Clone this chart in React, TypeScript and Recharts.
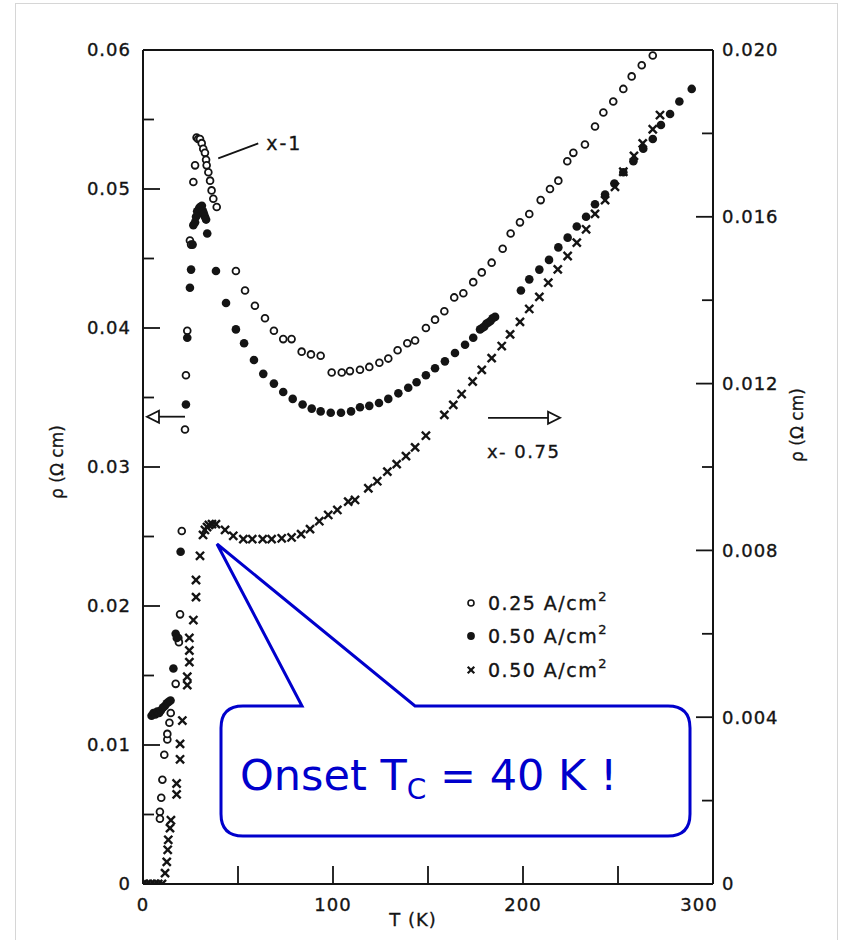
import React from 'react';
import { ScatterChart, Scatter, XAxis, YAxis, ReferenceLine, ReferenceDot, Legend } from 'recharts';

const FONT = '"DejaVu Sans", "Liberation Sans", sans-serif';
const INK = '#141414';
const BLUE = '#0000CC';

// ---- Data: x = 1, 0.25 A/cm^2 (open circles, left axis) ----
const openT = [8.9, 8.9, 9.6, 10.2, 11.2, 12.8, 12.8, 13.9, 14.6, 17.2, 18.6, 18.9, 19.5, 20.4, 22.1, 22.6, 23.3, 24.7, 25.3, 26.5, 27.4, 28.2, 29.0, 30.0, 30.9, 31.7, 32.6, 33.2, 33.5, 34.4, 35.3, 36.1, 37.0, 38.8,
  48.9, 53.7, 58.9, 64.2, 68.9, 73.8, 78.2, 83.5, 88.4, 93.5, 99.3, 104.6, 108.9, 114.2, 119.1, 124.4, 129.1, 134.0, 139.1, 143.2, 148.9, 153.7, 158.6, 163.8, 168.6, 173.8, 178.3, 183.5, 189.3, 193.5, 198.4, 203.3, 209.3, 214.2, 218.6, 223.3, 226.5, 232.6, 237.9, 242.3, 247.5, 252.8, 257.2, 262.5, 268.3];
const openRho = [0.0047, 0.0052, 0.0062, 0.0075, 0.0093, 0.0104, 0.0108, 0.0116, 0.0123, 0.0144, 0.0177, 0.0174, 0.0194, 0.0254, 0.0327, 0.0366, 0.0398, 0.0463, 0.0460, 0.0505, 0.0517, 0.0537, 0.0536, 0.0536, 0.0533, 0.0529, 0.0526, 0.0521, 0.0517, 0.0512, 0.0506, 0.0499, 0.0493, 0.0487,
  0.0441, 0.0427, 0.0416, 0.0407, 0.0398, 0.0392, 0.0392, 0.0383, 0.0381, 0.0380, 0.0368, 0.0368, 0.0369, 0.0370, 0.0372, 0.0375, 0.0378, 0.0384, 0.0389, 0.0391, 0.0400, 0.0406, 0.0412, 0.0422, 0.0425, 0.0433, 0.0440, 0.0447, 0.0457, 0.0468, 0.0476, 0.0482, 0.0492, 0.0500, 0.0506, 0.0520, 0.0526, 0.0532, 0.0545, 0.0555, 0.0563, 0.0572, 0.0581, 0.0589, 0.0596];

// ---- Data: x = 1, 0.50 A/cm^2 (filled circles, left axis) ----
const filledT = [4.5, 5.5, 6.5, 7.5, 8.5, 9.5, 10.5, 11.5, 12.5, 13.5, 14.5, 16.0, 17.2, 17.8, 19.8, 22.6, 23.3, 24.7, 25.3, 26.1, 26.5, 27.4, 27.9, 28.5, 29.0, 29.5, 30.0, 30.5, 31.0, 31.6, 32.1, 32.6, 33.2, 33.8,
  38.4, 43.7, 48.9, 53.2, 58.4, 63.3, 68.9, 73.8, 78.8, 84.0, 88.8, 93.5, 98.8, 104.2, 109.5, 114.2, 119.1, 124.2, 129.1, 134.4, 139.6, 144.0, 148.9, 153.7, 158.9, 164.2, 169.5, 173.8, 177.4, 178.5, 179.6, 180.7, 181.8, 182.9, 184.0, 185.3,
  198.9, 203.3, 208.6, 213.7, 218.6, 223.5, 228.3, 233.2, 237.9, 243.2, 248.1, 252.8, 258.1, 263.3, 268.3, 272.6, 277.4, 282.3, 288.8];
const filledRho = [0.0121, 0.0123, 0.0122, 0.0124, 0.0123, 0.0125, 0.0127, 0.0128, 0.0130, 0.0131, 0.0132, 0.0155, 0.0180, 0.0177, 0.0239, 0.0345, 0.0393, 0.0429, 0.0442, 0.0460, 0.0474, 0.0476, 0.0480, 0.0484, 0.0482, 0.0486, 0.0487, 0.0485, 0.0488, 0.0484, 0.0482, 0.0480, 0.0478, 0.0468,
  0.0441, 0.0418, 0.0399, 0.0389, 0.0377, 0.0367, 0.0360, 0.0354, 0.0349, 0.0345, 0.0342, 0.0340, 0.0339, 0.0339, 0.0340, 0.0343, 0.0344, 0.0346, 0.0349, 0.0353, 0.0357, 0.0361, 0.0366, 0.0371, 0.0376, 0.0382, 0.0388, 0.0393, 0.0399, 0.0400, 0.0401, 0.0403, 0.0404, 0.0405, 0.0407, 0.0408,
  0.0427, 0.0435, 0.0442, 0.0449, 0.0458, 0.0465, 0.0473, 0.0480, 0.0489, 0.0496, 0.0504, 0.0512, 0.0520, 0.0529, 0.0536, 0.0546, 0.0554, 0.0563, 0.0572];

// ---- Data: x = 0.75, 0.50 A/cm^2 (crosses, right axis) ----
const crossT = [0, 2, 4, 6, 8, 10, 11.6, 12.5, 13.0, 13.3, 14.2, 14.7, 17.7, 17.7, 19.5, 19.5, 20.7, 23.3, 23.3, 24.4, 24.4, 24.4, 26.5, 27.9, 27.9, 30.0, 31.6, 32.6, 33.7, 34.7, 36.3, 38.4,
  43.2, 47.5, 52.8, 57.5, 63.0, 67.7, 73.0, 78.2, 83.2, 87.9, 92.8, 97.5, 102.3, 108.0, 111.6, 118.6, 123.3, 128.6, 133.5, 138.4, 143.2, 148.9, 158.6, 163.3, 167.7, 173.5, 178.3, 183.5, 188.8, 193.2, 198.4, 203.3, 208.6, 213.3, 218.3, 223.5, 228.3, 233.2, 237.9, 243.2, 248.4, 252.8, 258.4, 263.0, 268.3, 272.1];
const crossRho = [0, 0, 0, 0, 0, 0, 0.00026, 0.00053, 0.00082, 0.00106, 0.00134, 0.00153, 0.00215, 0.00241, 0.00299, 0.00336, 0.00392, 0.00477, 0.00497, 0.00532, 0.0056, 0.0059, 0.00633, 0.00688, 0.00729, 0.00787, 0.00837, 0.00849, 0.00856, 0.00861, 0.00863, 0.00863,
  0.00849, 0.00835, 0.00827, 0.00827, 0.00827, 0.00827, 0.00829, 0.00831, 0.00839, 0.00851, 0.0087, 0.00885, 0.00897, 0.00917, 0.00921, 0.00949, 0.00966, 0.00989, 0.01007, 0.01026, 0.01047, 0.01075, 0.01125, 0.01149, 0.01175, 0.01205, 0.01233, 0.01261, 0.0129, 0.01318, 0.01348, 0.01379, 0.01408, 0.01442, 0.01474, 0.01506, 0.01538, 0.0157, 0.01607, 0.0164, 0.01672, 0.01708, 0.01746, 0.01776, 0.0181, 0.01844];

// ---- Axis ticks / labels ----
const xTicks = [0, 50, 100, 150, 200, 250, 300];
const xTickLabels = ['0', '', '100', '', '200', '', '300'];
const leftTicks = [0, 0.005, 0.01, 0.015, 0.02, 0.025, 0.03, 0.035, 0.04, 0.045, 0.05, 0.055, 0.06];
const leftTickLabels = ['0', '', '0.01', '', '0.02', '', '0.03', '', '0.04', '', '0.05', '', '0.06'];
const rightTicks = [0, 0.002, 0.004, 0.006, 0.008, 0.01, 0.012, 0.014, 0.016, 0.018, 0.02];
const rightTickLabels = ['0', '', '0.004', '', '0.008', '', '0.012', '', '0.016', '', '0.020'];

const legendLabels = ['0.25 A/cm', '0.50 A/cm', '0.50 A/cm'];

const openData = openT.map((T, i) => ({ T, rho: openRho[i] }));
const filledData = filledT.map((T, i) => ({ T, rho: filledRho[i] }));
const crossData = crossT.map((T, i) => ({ T, rho: crossRho[i] }));

const textStyle = { fontFamily: FONT, fontSize: 18, letterSpacing: 1, fill: INK, stroke: INK, strokeWidth: 0.35 } as const;

const OpenMark = (p: any) => (
  <circle cx={p.cx} cy={p.cy} r={3.4} fill="#fff" stroke={INK} strokeWidth={1.8} />
);
const FilledMark = (p: any) => <circle cx={p.cx} cy={p.cy} r={4.3} fill={INK} />;
const CrossMark = (p: any) => (
  <g stroke={INK} strokeWidth={2.4} strokeLinecap="square">
    <line x1={p.cx - 3.2} y1={p.cy - 3.2} x2={p.cx + 3.2} y2={p.cy + 3.2} />
    <line x1={p.cx - 3.2} y1={p.cy + 3.2} x2={p.cx + 3.2} y2={p.cy - 3.2} />
  </g>
);

const L_MARGIN = 12;
const R_MARGIN = 9;
const B_MARGIN = 21;

const LeftTick = (props: any) => {
  const { x, y, index } = props;
  const label = leftTickLabels[index];
  const ax = x + L_MARGIN;
  const len = label ? 17 : 11;
  return (
    <g>
      <line x1={ax} x2={ax + len} y1={y} y2={y} stroke={INK} strokeWidth={1.8} />
      {label ? (
        <text x={x} y={y} dy="0.36em" textAnchor="end" style={textStyle}>{label}</text>
      ) : null}
    </g>
  );
};

const RightTick = (props: any) => {
  const { x, y, index } = props;
  const label = rightTickLabels[index];
  const ax = x - R_MARGIN;
  const len = label ? 17 : 11;
  return (
    <g>
      <line x1={ax} x2={ax - len} y1={y} y2={y} stroke={INK} strokeWidth={1.8} />
      {label ? (
        <text x={x} y={y} dy="0.36em" textAnchor="start" style={textStyle}>{label}</text>
      ) : null}
    </g>
  );
};

const BottomTick = (props: any) => {
  const { x, y, index } = props;
  const label = xTickLabels[index];
  const ay = y - B_MARGIN;
  const last = index === xTicks.length - 1;
  return (
    <g>
      {index > 0 && !last ? (
        <line x1={x} x2={x} y1={ay} y2={ay - 18} stroke={INK} strokeWidth={1.8} />
      ) : null}
      {label ? (
        <text x={last ? x - 14 : x} y={y} dy="0.36em" textAnchor="middle" style={textStyle}>{label}</text>
      ) : null}
    </g>
  );
};

const LegendContent = () => {
  const marks = [
    <circle key="o" cx={9} cy={9} r={3} fill="#fff" stroke={INK} strokeWidth={1.6} />,
    <circle key="f" cx={9} cy={9} r={3.9} fill={INK} />,
    <g key="x" stroke={INK} strokeWidth={2.2} strokeLinecap="square">
      <line x1={6.5} y1={6.5} x2={11.5} y2={11.5} />
      <line x1={6.5} y1={11.5} x2={11.5} y2={6.5} />
    </g>,
  ];
  return (
    <div style={{ fontFamily: FONT, fontSize: 19, letterSpacing: 1.5, color: INK, WebkitTextStroke: '0.35px #141414' }}>
      {legendLabels.map((lab, i) => (
        <div key={i} style={{ display: 'flex', alignItems: 'center', height: 33.5, whiteSpace: 'nowrap' }}>
          <svg width={18} height={18} style={{ display: 'block' }}>{marks[i]}</svg>
          <span style={{ marginLeft: 8 }}>
            {lab}
            <sup style={{ fontSize: 13, verticalAlign: 'top', position: 'relative', top: -3 }}>2</sup>
          </span>
        </div>
      ))}
    </div>
  );
};

const axisTitle = { fontFamily: FONT, fontSize: 17, fill: INK, stroke: INK, strokeWidth: 0.3 } as const;

export default function App() {
  return (
    <div style={{ position: 'absolute', left: 0, top: 0, width: 844, height: 940, background: '#fff', overflow: 'hidden' }}>
      <ScatterChart width={844} height={940} margin={{ top: 50, right: 51, bottom: 16, left: 63 }}>
        <XAxis
          type="number"
          dataKey="T"
          domain={[0, 300]}
          ticks={xTicks}
          interval={0}
          tickSize={0}
          tickMargin={B_MARGIN}
          tick={<BottomTick />}
          tickLine={false}
          axisLine={{ stroke: INK, strokeWidth: 2 }}
          height={40}
          allowDataOverflow
          label={{
            content: (p: any) => {
              const vb = p.viewBox;
              return (
                <text x={vb.x + vb.width / 2 - 15} y={vb.y + 36} dy="0.36em" textAnchor="middle" style={{ ...axisTitle, fontSize: 18, letterSpacing: 1 }}>T (K)</text>
              );
            },
          }}
        />
        <YAxis
          yAxisId="L"
          type="number"
          dataKey="rho"
          domain={[0, 0.06]}
          ticks={leftTicks}
          interval={0}
          tickSize={0}
          tickMargin={L_MARGIN}
          tick={<LeftTick />}
          tickLine={false}
          axisLine={{ stroke: INK, strokeWidth: 2 }}
          width={80}
          allowDataOverflow
          label={{
            content: (p: any) => {
              const vb = p.viewBox;
              const cx = vb.x - 6;
              const cy = vb.y + vb.height / 2 - 5;
              return (
                <text transform={`translate(${cx}, ${cy}) rotate(-90)`} textAnchor="middle" dy="0.36em" style={axisTitle}>ρ (Ω cm)</text>
              );
            },
          }}
        />
        <YAxis
          yAxisId="R"
          orientation="right"
          type="number"
          dataKey="rho"
          domain={[0, 0.02]}
          ticks={rightTicks}
          interval={0}
          tickSize={0}
          tickMargin={R_MARGIN}
          tick={<RightTick />}
          tickLine={false}
          axisLine={{ stroke: INK, strokeWidth: 2 }}
          width={80}
          allowDataOverflow
          label={{
            content: (p: any) => {
              const vb = p.viewBox;
              const cx = vb.x + 84;
              const cy = vb.y + vb.height / 2 - 42;
              return (
                <text transform={`translate(${cx}, ${cy}) rotate(-90)`} textAnchor="middle" dy="0.36em" style={axisTitle}>ρ (Ω cm)</text>
              );
            },
          }}
        />
        <ReferenceLine yAxisId="L" y={0.06} stroke={INK} strokeWidth={2} />

        <Scatter name="0.25 A/cm2" data={openData} yAxisId="L" shape={OpenMark} isAnimationActive={false} />
        <Scatter name="0.50 A/cm2" data={filledData} yAxisId="L" shape={FilledMark} isAnimationActive={false} />
        <Scatter name="0.50 A/cm2 (x=0.75)" data={crossData} yAxisId="R" shape={CrossMark} isAnimationActive={false} />

        {/* x-1 annotation */}
        <ReferenceDot
          yAxisId="L"
          x={39.6}
          y={0.0522}
          r={0}
          shape={(p: any) => (
            <g>
              <line x1={p.cx} y1={p.cy} x2={p.cx + 40} y2={p.cy - 15} stroke={INK} strokeWidth={1.8} />
              <text x={p.cx + 48} y={p.cy - 15} dy="0.36em" style={{ ...textStyle, fontSize: 19, letterSpacing: 2 }}>x-1</text>
            </g>
          )}
        />
        {/* left arrow */}
        <ReferenceDot
          yAxisId="L"
          x={2.1}
          y={0.03362}
          r={0}
          shape={(p: any) => (
            <g>
              <line x1={p.cx + 12} y1={p.cy} x2={p.cx + 38} y2={p.cy} stroke={INK} strokeWidth={1.8} />
              <polygon points={`${p.cx},${p.cy} ${p.cx + 12},${p.cy - 6} ${p.cx + 12},${p.cy + 6}`} fill="#fff" stroke={INK} strokeWidth={1.8} />
            </g>
          )}
        />
        {/* right arrow */}
        <ReferenceDot
          yAxisId="R"
          x={219.5}
          y={0.01118}
          r={0}
          shape={(p: any) => (
            <g>
              <line x1={p.cx - 12} y1={p.cy} x2={p.cx - 72} y2={p.cy} stroke={INK} strokeWidth={1.8} />
              <polygon points={`${p.cx},${p.cy} ${p.cx - 12},${p.cy - 6} ${p.cx - 12},${p.cy + 6}`} fill="#fff" stroke={INK} strokeWidth={1.8} />
            </g>
          )}
        />
        {/* x = 0.75 label */}
        <ReferenceDot
          yAxisId="R"
          x={181}
          y={0.01038}
          r={0}
          shape={(p: any) => (
            <text x={p.cx} y={p.cy} dy="0.36em" style={{ ...textStyle, fontSize: 18, letterSpacing: 1.5 }}>x- 0.75</text>
          )}
        />

        <Legend
          layout="vertical"
          align="center"
          verticalAlign="middle"
          content={<LegendContent />}
          wrapperStyle={{ left: 462, top: 586, width: 220, height: 102 }}
        />
      </ScatterChart>

      {/* slide frame and callout overlay */}
      <svg width={844} height={940} style={{ position: 'absolute', left: 0, top: 0, pointerEvents: 'none' }}>
        <rect x={15.5} y={3.5} width={822} height={960} fill="none" stroke="#d6d6d6" strokeWidth={1} />
        <path
          d="M 243 706 L 302 706 L 217 544 L 415 706 L 668 706 Q 690 706 690 728 L 690 814 Q 690 836 668 836 L 243 836 Q 221 836 221 814 L 221 728 Q 221 706 243 706 Z"
          fill="#fff"
          stroke={BLUE}
          strokeWidth={3}
          strokeLinejoin="miter"
        />
        <text x={240} y={790} style={{ fontFamily: FONT, fontSize: 43, fill: BLUE }}>
          Onset T
          <tspan dy={9} fontSize={28}>C</tspan>
          <tspan dy={-9} fontSize={43}> = 40 K !</tspan>
        </text>
      </svg>
    </div>
  );
}
